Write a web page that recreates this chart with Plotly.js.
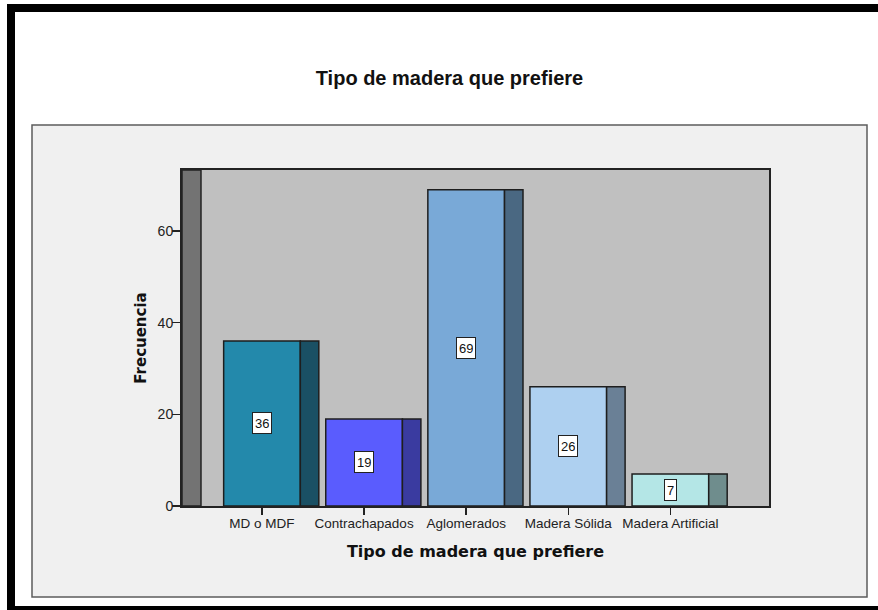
<!DOCTYPE html>
<html>
<head>
<meta charset="utf-8">
<script src="https://cdn.plot.ly/plotly-3.0.1.min.js"></script>
<style>
  html, body { margin: 0; padding: 0; background: #ffffff; }
  #chart { width: 878px; height: 610px; }
</style>
</head>
<body>
<div id="chart"></div>
<script>
// Frecuencias por tipo de madera preferida
const categorias = ['MD o MDF', 'Contrachapados', 'Aglomerados', 'Madera Sólida', 'Madera Artificial'];
const frecuencias = [36, 19, 69, 26, 7];
const coloresFrente = ['#2389ab', '#5a5cfe', '#79a9d7', '#aed0f0', '#b4e6e6'];
const coloresLado = ['#1a5064', '#3a3ba0', '#4a6882', '#6a8096', '#6f8d8d'];
const ticksY = [0, 20, 40, 60];

// Page geometry (pixels) of the plotting area
const W = 878, H = 610;
const L = 182, R = 769, T = 170, B = 506;
const px = x => (x - L) / (R - L);
const py = y => (B - y) / (B - T);

const xRange = [-0.7835, 4.966];
const yRange = [0, 73.3];
const frontW = 0.751;
const sideW = 0.181;
const wallW = 0.186;

const frente = {
  type: 'bar',
  x: categorias,
  y: frecuencias,
  width: frontW,
  offset: -frontW / 2,
  marker: { color: coloresFrente, line: { color: '#1e1e1e', width: 1.5 } },
  hoverinfo: 'x+y',
  showlegend: false
};

// darker side face giving the bars their depth
const lado = {
  type: 'bar',
  x: categorias,
  y: frecuencias,
  width: sideW,
  offset: frontW / 2,
  marker: { color: coloresLado, line: { color: '#1e1e1e', width: 1.5 } },
  hoverinfo: 'skip',
  showlegend: false
};

const etiquetas = categorias.map((c, i) => ({
  x: c,
  y: frecuencias[i] / 2,
  xref: 'x',
  yref: 'y',
  text: String(frecuencias[i]),
  showarrow: false,
  height: 16,
  bgcolor: '#ffffff',
  bordercolor: '#222222',
  borderwidth: 1,
  borderpad: 2,
  font: { family: 'Liberation Sans, Arial, sans-serif', size: 13, color: '#111111' }
}));

const rect = (x0, y0, x1, y1, fill, line, lw) => ({
  type: 'rect', xref: 'paper', yref: 'paper', layer: 'below',
  x0: px(x0), x1: px(x1), y0: py(y0), y1: py(y1),
  fillcolor: fill,
  line: { color: line || fill, width: lw || 0 }
});

const formas = [
  // outer frame
  rect(7, 4, 880, 12, '#000000'),
  rect(7, 4, 15, 612, '#000000'),
  rect(7, 606, 880, 612, '#000000'),
  // chart panel
  rect(32, 125, 867, 597, '#f0f0f0', '#5c5c5c', 1.5),
  // plotting area background
  rect(L, T, R, B, '#c0c0c0'),
  // back wall on the left of the plotting area
  {
    type: 'rect', xref: 'x', yref: 'y', layer: 'below',
    x0: xRange[0], x1: xRange[0] + wallW, y0: yRange[0], y1: yRange[1],
    fillcolor: '#737373', line: { color: '#222222', width: 1.5 }
  }
];

const layout = {
  width: W,
  height: H,
  margin: { l: L, r: W - R, t: T, b: H - B, pad: 0 },
  paper_bgcolor: '#ffffff',
  plot_bgcolor: 'rgba(0,0,0,0)',
  barmode: 'overlay',
  bargap: 0,
  showlegend: false,
  title: {
    text: 'Tipo de madera que prefiere',
    xref: 'container', yref: 'container',
    x: 449.5 / W, xanchor: 'center',
    y: 1 - 78 / H, yanchor: 'middle',
    font: { family: 'Liberation Sans, Arial, sans-serif', size: 20, color: '#111111', weight: 'bold' }
  },
  xaxis: {
    type: 'category',
    range: xRange,
    showgrid: false,
    zeroline: false,
    showline: true,
    linecolor: '#222222',
    linewidth: 2,
    mirror: true,
    ticks: 'outside',
    ticklen: 7,
    tickwidth: 1.5,
    tickcolor: '#222222',
    ticklabelstandoff: -3,
    tickfont: { family: 'Liberation Sans, Arial, sans-serif', size: 13.5, color: '#222222' },
    title: {
      text: 'Tipo de madera que prefiere',
      standoff: 16,
      font: { family: 'DejaVu Sans, sans-serif', size: 16, color: '#111111', weight: 'bold' }
    },
    fixedrange: true
  },
  yaxis: {
    range: yRange,
    tickvals: ticksY,
    ticktext: ticksY.map(String),
    showgrid: false,
    zeroline: false,
    showline: true,
    linecolor: '#222222',
    linewidth: 2,
    mirror: true,
    ticks: 'outside',
    ticklen: 8,
    tickwidth: 1.5,
    tickcolor: '#222222',
    ticklabelstandoff: -4,
    tickfont: { family: 'Liberation Sans, Arial, sans-serif', size: 14, color: '#222222' },
    title: {
      text: 'Frecuencia',
      standoff: 7,
      font: { family: 'DejaVu Sans, sans-serif', size: 15, color: '#111111', weight: 'bold' }
    },
    fixedrange: true
  },
  shapes: formas,
  annotations: etiquetas
};

Plotly.newPlot('chart', [frente, lado], layout, { displayModeBar: false, staticPlot: true });
</script>
</body>
</html>
